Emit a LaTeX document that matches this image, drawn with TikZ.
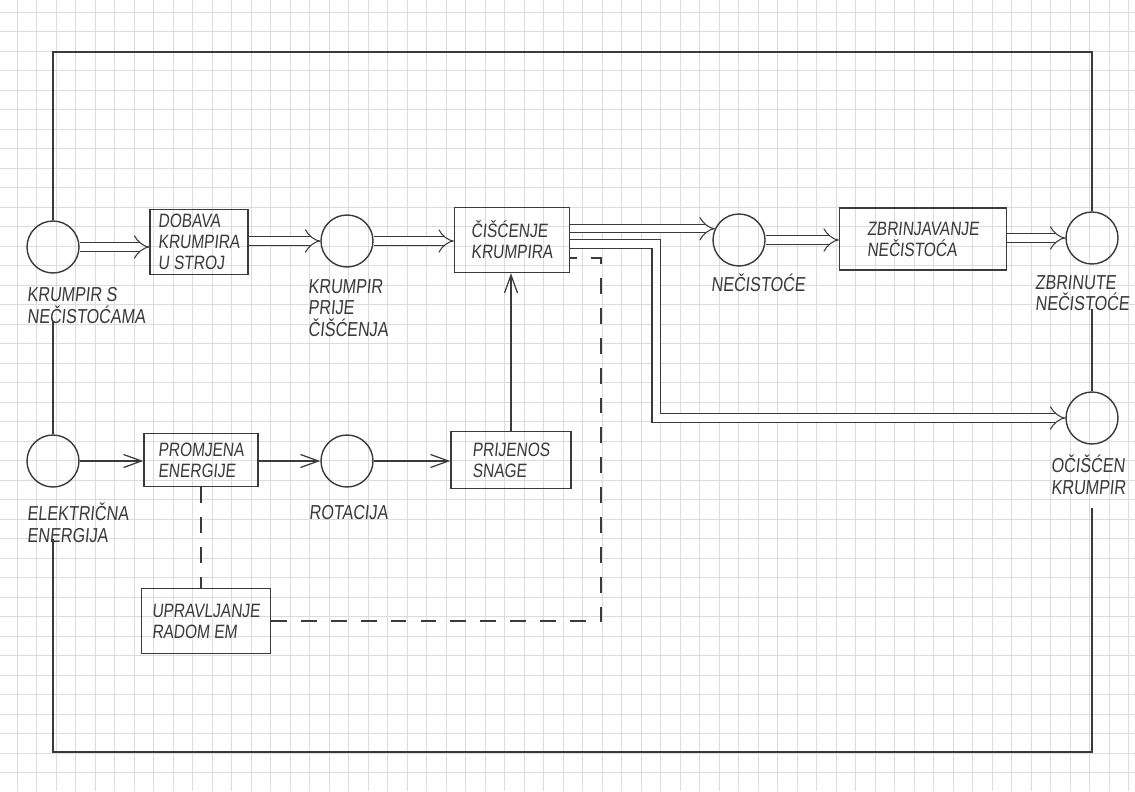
\documentclass[tikz,border=0pt]{standalone}
\usepackage{fontspec}
\setmainfont{Liberation Sans}[FakeStretch=0.8,FakeSlant=0.1]
\usetikzlibrary{arrows.meta,positioning,calc}
\definecolor{pencil}{RGB}{58,58,58}
\definecolor{gridgray}{RGB}{220,220,220}
\tikzset{
  opbox/.style={draw=pencil,line width=0.8pt,minimum height=1.3cm,align=left,inner sep=2pt,
    font=\fontsize{11}{12}\selectfont,text=pencil},
  flowpt/.style={circle,draw=pencil,line width=0.8pt,minimum size=1.04cm,inner sep=0pt},
  lbl/.style={align=left,inner sep=1pt,font=\fontsize{11.5}{12.5}\selectfont,text=pencil},
  mat/.style={-{Implies[length=14pt,width=18pt]},draw=pencil,line width=0.6pt,double=white,double distance=4.2pt},
  en/.style={-{Straight Barb[length=3.6mm,width=2.6mm]},draw=pencil,line width=0.7pt},
  sig/.style={draw=pencil,line width=0.8pt,dash pattern=on 9pt off 8pt},
  bnd/.style={draw=pencil,line width=0.8pt},
  gridln/.style={draw=gridgray,line width=0.5pt}
}
\begin{document}
\begin{tikzpicture}[x=0.02cm,y=-0.02cm]
\useasboundingbox (0,0) rectangle (1135,791);
\fill[white] (0,0) rectangle (1135,791);
% grid paper
\foreach \gx in {0,...,57} \draw[gridln] ({17+19.5*\gx},0) -- ({17+19.5*\gx},791);
\foreach \gy in {0,...,39} \draw[gridln] (0,{12+19.5*\gy}) -- (1135,{12+19.5*\gy});

% flows and functions
\node[flowpt] (krumpir) at (53,247) {};
\node[opbox,minimum width=1.96cm] (dobava) at (199,242) {DOBAVA\\KRUMPIRA\\U STROJ};
\node[flowpt] (prije) at (347,241) {};
\node[opbox,minimum width=2.3cm] (ciscenje) at (512,240) {ČIŠĆENJE\\KRUMPIRA};
\node[flowpt] (necist) at (739,240) {};
\node[opbox,minimum width=3.34cm,minimum height=1.24cm] (zbrinjav) at (923,239) {ZBRINJAVANJE\\NEČISTOĆA};
\node[flowpt] (zbrinute) at (1092,238) {};
\node[flowpt] (ociscen) at (1092,418) {};
\node[flowpt] (struja) at (53,461) {};
\node[opbox,minimum width=2.28cm,minimum height=1.06cm] (promjena) at (201,460) {PROMJENA\\ENERGIJE};
\node[flowpt] (rotacija) at (347,461) {};
\node[opbox,minimum width=2.4cm,minimum height=1.14cm] (prijenos) at (511,460) {PRIJENOS\\SNAGE};
\node[opbox,minimum width=2.58cm] (upravlj) at (206,621) {UPRAVLJANJE\\RADOM EM};

% labels
\node[lbl,anchor=north west] (lkrumpir) at (25,285) {KRUMPIR S\\NEČISTOĆAMA};
\node[lbl,anchor=north west] (lprije) at (306,277) {KRUMPIR\\PRIJE\\ČIŠĆENJA};
\node[lbl,anchor=north west] (lnecist) at (709,272) {NEČISTOĆE};
\node[lbl,anchor=north west] (lzbrinute) at (1033,273) {ZBRINUTE\\NEČISTOĆE};
\node[lbl,anchor=north west] (lociscen) at (1049,453) {OČIŠĆEN\\KRUMPIR};
\node[lbl,anchor=north west] (lstruja) at (25,501) {ELEKTRIČNA\\ENERGIJA};
\node[lbl,anchor=north west] (lrotacija) at (307,503) {ROTACIJA};

% material flow
\draw[mat] (krumpir.east) -- (krumpir.east -| dobava.west);
\draw[mat] (dobava.east |- prije) -- (prije.west);
\draw[mat] (prije.east) -- (prije.east -| ciscenje.west);
\draw[mat] (ciscenje.east |- necist.155) -- (necist.155);
\draw[mat] (necist.east) -- (necist.east -| zbrinjav.west);
\draw[mat] (zbrinjav.east |- zbrinute) -- (zbrinute.west);
\draw[mat] ($(ciscenje.east)+(0,4)$) -- ++(86,0) |- (ociscen.west);

% energy flow
\draw[en] (struja.east) -- (struja.east -| promjena.west);
\draw[en] (promjena.east |- rotacija) -- (rotacija.west);
\draw[en] (rotacija.east) -- (rotacija.east -| prijenos.west);
\draw[en] (prijenos.north) -- (prijenos.north |- ciscenje.south);

% signal flow
\draw[sig] (promjena.south) -- (promjena.south |- upravlj.north);
\draw[sig] (upravlj.east) -| ($(ciscenje.east)+(31,18)$) -- ($(ciscenje.east)+(0,18)$);

% system boundary
\coordinate (top) at (0,52);
\coordinate (bot) at (0,752);
\draw[bnd] (krumpir.north) -- (krumpir |- top) -- (zbrinute |- top) -- (zbrinute.north);
\draw[bnd] (lkrumpir.south -| krumpir) ++(0,-4) -- (struja.north);
\draw[bnd] (lzbrinute.south -| zbrinute) ++(0,-4) -- (ociscen.north);
\draw[bnd] (lstruja.south -| struja) ++(0,-6) -- (struja |- bot) -- (ociscen |- bot) -- ([yshift=-6pt]lociscen.south -| ociscen);
\end{tikzpicture}
\end{document}
